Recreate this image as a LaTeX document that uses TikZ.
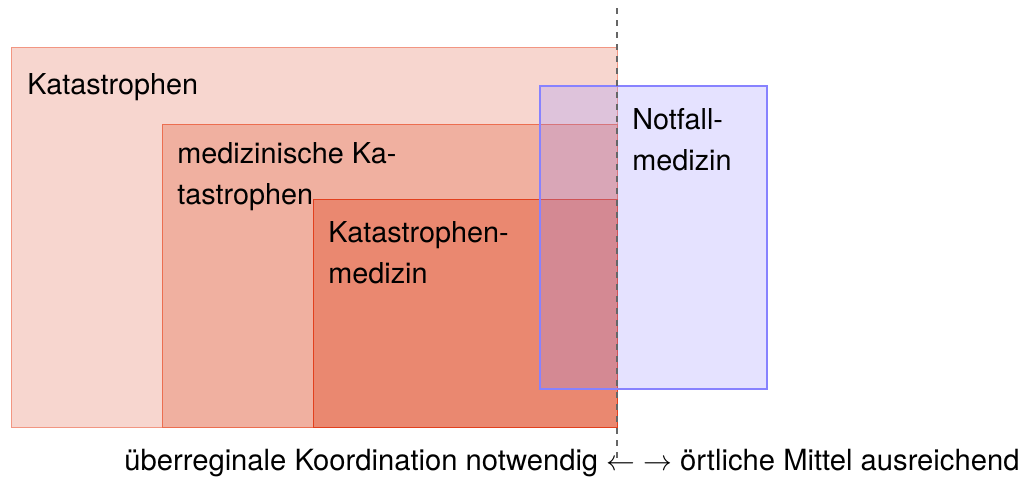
\documentclass[tikz,border=0pt]{standalone}
\usepackage{fontspec}
\setmainfont{TeX Gyre Heros}
\usetikzlibrary{positioning}

\definecolor{katfill}{RGB}{247,214,207}
\definecolor{medfill}{RGB}{240,176,160}
\definecolor{kmedfill}{RGB}{234,136,112}
\definecolor{katline}{RGB}{242,150,130}
\definecolor{medline}{RGB}{236,110,80}
\definecolor{kmedline}{RGB}{226,64,30}
\definecolor{notfill}{RGB}{150,140,255}
\definecolor{notline}{RGB}{135,130,255}

\begin{document}
\begin{tikzpicture}[
        x=0.5pt,y=-0.5pt,
        txt/.style={font=\fontsize{14.4}{20.5}\selectfont,inner sep=0pt,anchor=base west,align=left},
        kat/.style={fill=katfill,draw=katline,line width=0.5pt},
        med/.style={fill=medfill,draw=medline,line width=0.5pt},
        kmed/.style={fill=kmedfill,draw=kmedline,line width=0.5pt},
        notf/.style={fill=notfill,fill opacity=0.25,draw=notline,draw opacity=1,line width=0.6pt}
    ]
    \useasboundingbox (0,0) rectangle (1022,477);
    \draw[kat] (11,47) rectangle (617,427);
    \draw[med] (162,124) rectangle (617,427);
    \draw[kmed] (313,199) rectangle (617,427);
    \draw[notf] (540,86) rectangle (767,389);
    \coordinate (top) at (617,8);
    \coordinate (bottom) at (617,461);
    \draw[dashed,gray!80!black,line width=0.7pt] (top)--(bottom);
    \node[txt] (katastrophen) at (27,94) {Katastrophen};
    \node[txt] (medkat) at (177,204) {medizinische Ka-\\tastrophen};
    \node[txt] (katmed) at (328,283) {Katastrophen-\\medizin};
    \node[txt] (notfall) at (632,170) {Notfall-\\medizin};
    \node[txt,font=\fontsize{14.6}{20.5}\selectfont] (skala) at (124,470) {überreginale Koordination notwendig $\leftarrow$ $\rightarrow$ örtliche Mittel ausreichend};
\end{tikzpicture}
\end{document}
